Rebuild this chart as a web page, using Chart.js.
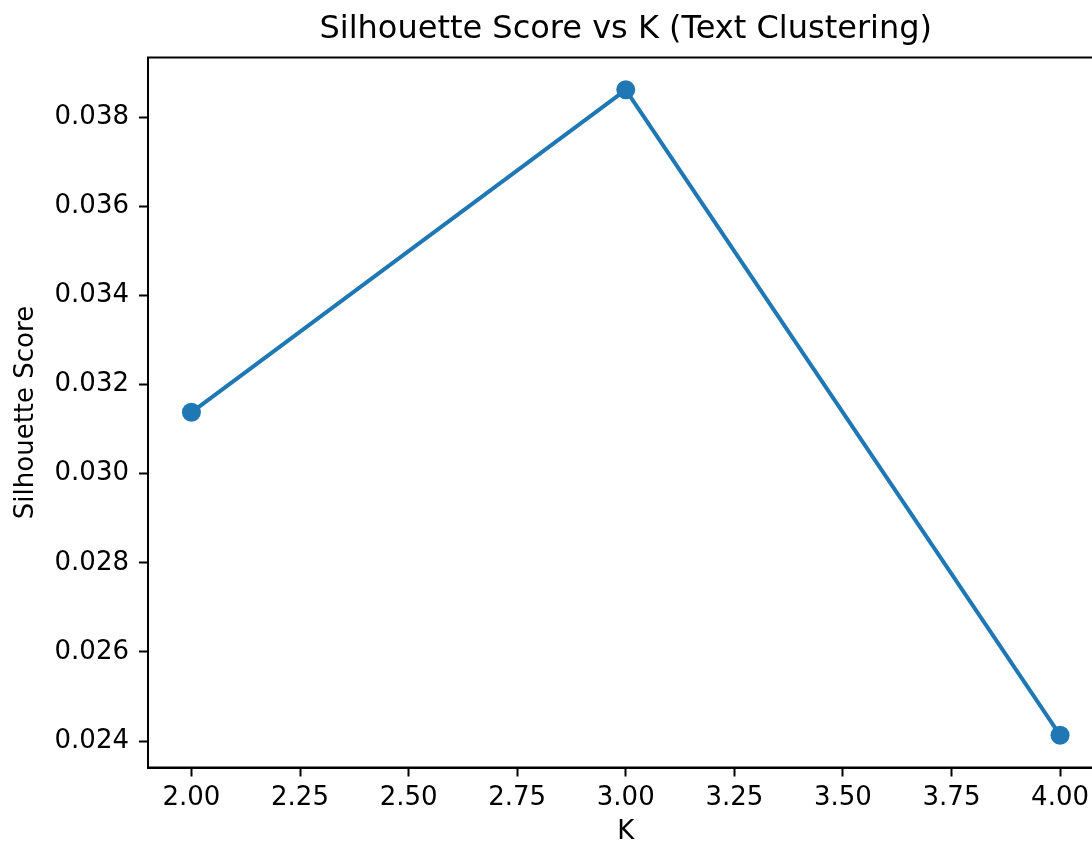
<!DOCTYPE html>
<html>
<head>
<meta charset="utf-8">
<script src="https://cdn.jsdelivr.net/npm/chart.js@4"></script>
<style>
    html, body { margin: 0; padding: 0; background: #fff; overflow: hidden; }
    #wrap { width: 1252px; height: 843px; }
</style>
</head>
<body>
<div id="wrap"><canvas id="silChart" width="1252" height="843"></canvas></div>
<script>
// K values and silhouette scores
const kValues = [2, 3, 4];
const scores = [0.03138, 0.03862, 0.02413];

const xTickStep = 0.25;
const yTickStep = 0.002;

const FONT = "'DejaVu Sans', sans-serif";
const BLUE = '#1f77b4';

// matplotlib style 5% margins around the data
const xSpan = Math.max(...kValues) - Math.min(...kValues);
const ySpan = Math.max(...scores) - Math.min(...scores);
const xMin = Math.min(...kValues) - xSpan * 0.05;
const xMax = Math.max(...kValues) + xSpan * 0.05;
const yMin = Math.min(...scores) - ySpan * 0.05;
const yMax = Math.max(...scores) + ySpan * 0.05;

// Frame around the plot area (top/right spines)
const frame = {
    id: 'frame',
    afterDraw(chart) {
        const a = chart.chartArea;
        const ctx = chart.ctx;
        ctx.save();
        ctx.strokeStyle = '#000';
        ctx.lineWidth = 2;
        ctx.strokeRect(a.left, a.top, a.right - a.left, a.bottom - a.top);
        ctx.restore();
    }
};

const ctx = document.querySelector('#silChart').getContext('2d');

new Chart(ctx, {
    type: 'line',
    data: {
        datasets: [{
            data: kValues.map((k, i) => ({ x: k, y: scores[i] })),
            borderColor: BLUE,
            backgroundColor: BLUE,
            borderWidth: 4,
            pointRadius: 9.5,
            pointBorderWidth: 0,
            pointBackgroundColor: BLUE,
            tension: 0,
            fill: false
        }]
    },
    options: {
        responsive: false,
        animation: false,
        devicePixelRatio: 1,
        layout: {
            padding: { left: 0, right: 148.5, top: 0, bottom: 0 }
        },
        plugins: {
            legend: { display: false },
            tooltip: { enabled: false },
            title: {
                display: true,
                fullSize: false,
                text: 'Silhouette Score vs K (Text Clustering)',
                color: '#000',
                font: { family: FONT, size: 32, weight: 'normal', lineHeight: 1.2 },
                padding: { top: 10.3, bottom: 8.8 }
            }
        },
        scales: {
            x: {
                type: 'linear',
                min: xMin,
                max: xMax,
                afterFit: function(scale) { scale.height = 75.5; },
                grid: {
                    drawOnChartArea: false,
                    drawTicks: true,
                    tickLength: 9,
                    tickWidth: 2,
                    tickColor: '#000'
                },
                border: { display: true, color: '#000', width: 2 },
                ticks: {
                    stepSize: xTickStep,
                    includeBounds: false,
                    maxRotation: 0,
                    autoSkip: false,
                    padding: 6,
                    color: '#000',
                    font: { family: FONT, size: 26 },
                    callback: function(value) { return value.toFixed(2); }
                },
                title: {
                    display: true,
                    text: 'K',
                    color: '#000',
                    font: { family: FONT, size: 26, lineHeight: 0.8 },
                    padding: { top: 0, bottom: 0 }
                }
            },
            y: {
                type: 'linear',
                min: yMin,
                max: yMax,
                afterFit: function(scale) { scale.width = 148; },
                grid: {
                    drawOnChartArea: false,
                    drawTicks: true,
                    tickLength: 9,
                    tickWidth: 2,
                    tickColor: '#000'
                },
                border: { display: true, color: '#000', width: 2 },
                ticks: {
                    stepSize: yTickStep,
                    includeBounds: false,
                    autoSkip: false,
                    padding: 10,
                    color: '#000',
                    font: { family: FONT, size: 26 },
                    callback: function(value) { return value.toFixed(3); }
                },
                title: {
                    display: true,
                    text: 'Silhouette Score',
                    color: '#000',
                    font: { family: FONT, size: 26, lineHeight: 1.2 },
                    padding: { top: 10.4, bottom: 0 }
                }
            }
        }
    },
    plugins: [frame]
});
</script>
</body>
</html>
